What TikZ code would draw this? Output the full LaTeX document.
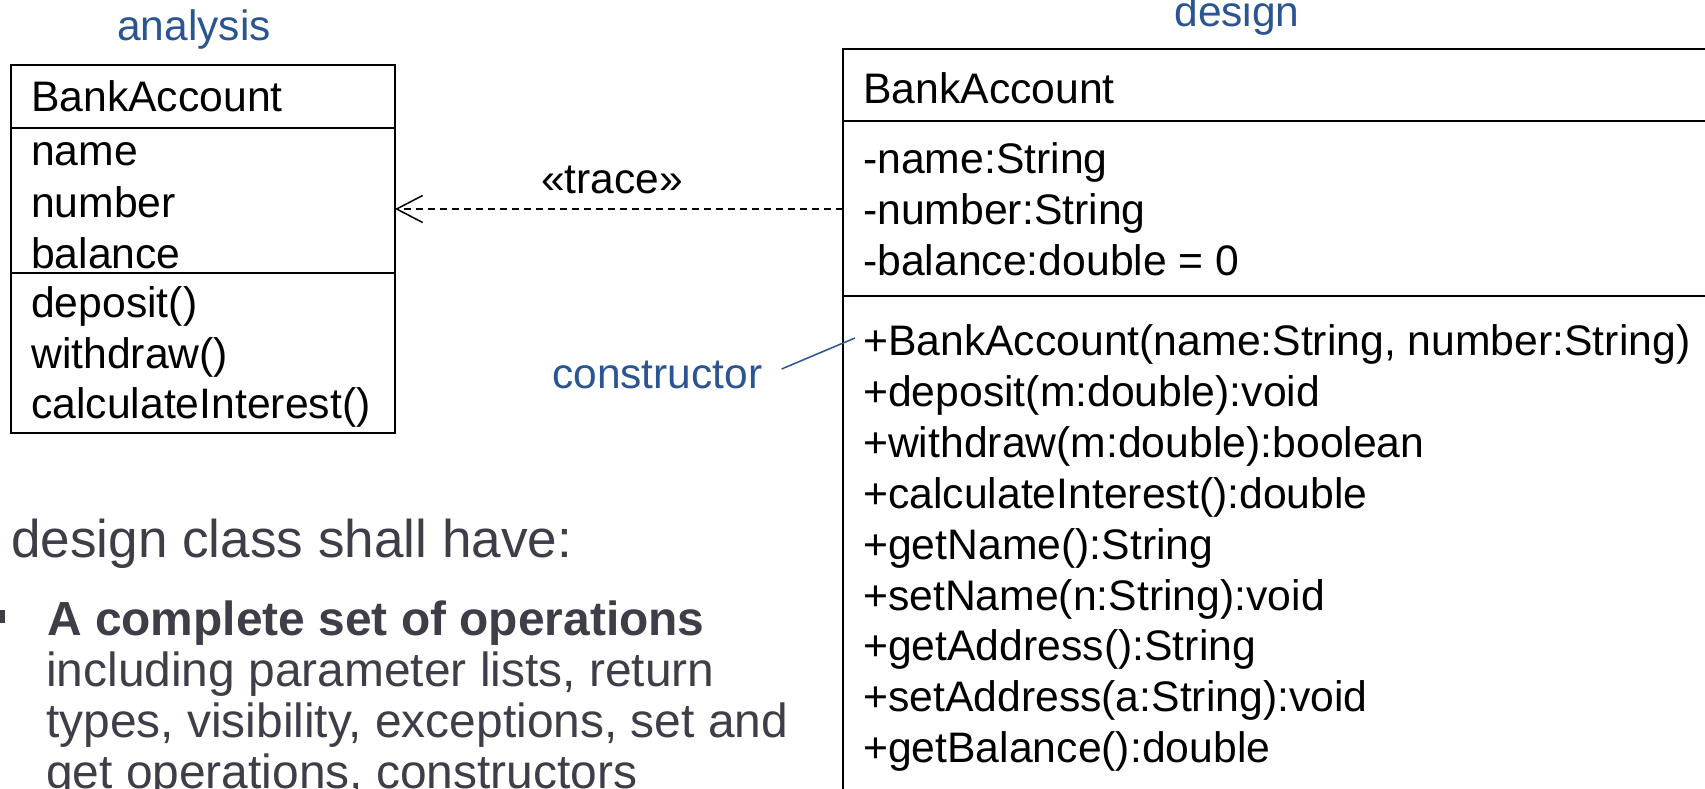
\documentclass[tikz,border=0pt]{standalone}
\usepackage{fontspec}
\setmainfont{Liberation Sans}
\usetikzlibrary{arrows.meta}
\definecolor{lblue}{HTML}{2A5592}
\definecolor{tgray}{HTML}{3E3D48}
\tikzset{
  umlbox/.style={draw, line width=2pt, inner sep=0, outer sep=0, anchor=north west},
  divider/.style={line width=2pt},
  umltxt/.style={inner sep=0, anchor=base west, font=\fontsize{42.7}{50}\selectfont},
  lbl/.style={inner sep=0, anchor=base, text=lblue, font=\fontsize{42.5}{50}\selectfont},
  tracearrow/.style={line width=1.5pt, dash pattern=on 7pt off 5pt, -{Straight Barb[length=26pt, width=27pt, line width=1.5pt]}},
  bodytxt/.style={inner sep=0, anchor=base west, text=tgray, font=\fontsize{47.9}{50}\selectfont},
}
\begin{document}
\begin{tikzpicture}[x=1pt, y=-1pt]
\useasboundingbox (0,0) rectangle (1705,789);
\clip (0,0) rectangle (1705,789);

% analysis class
\node[lbl] (analysislbl) at (194,41) {analysis};
\node[umlbox, minimum width=384pt, minimum height=368pt] (ana) at (11,65) {};
\draw[divider] (11,128) -- (395,128);
\draw[divider] (11,273) -- (395,273);
\node[umltxt] (aname) at (31,112) {BankAccount};
\node[umltxt] (a1) at (31,165) {name};
\node[umltxt] (a2) at (31,217) {number};
\node[umltxt] (a3) at (31,268) {balance};
\node[umltxt] (a4) at (31,317) {deposit()};
\node[umltxt] (a5) at (31,368) {withdraw()};
\node[umltxt] (a6) at (31,418) {calculateInterest()};

% design class
\node[lbl] (designlbl) at (1237,27) {design};
\node[umlbox, minimum width=900pt, minimum height=800pt] (des) at (843,49) {};
\draw[divider] (843,121) -- (1760,121);
\draw[divider] (843,296) -- (1760,296);
\node[umltxt] (dname) at (863,104) {BankAccount};
\node[umltxt] (d1) at (863,173) {-name:String};
\node[umltxt] (d2) at (863,224) {-number:String};
\node[umltxt] (d3) at (863,275) {-balance:double = 0};
\node[umltxt] (o1) at (863,355) {+BankAccount(name:String, number:String)};
\node[umltxt] (o2) at (863,406) {+deposit(m:double):void};
\node[umltxt] (o3) at (863,457) {+withdraw(m:double):boolean};
\node[umltxt] (o4) at (863,508) {+calculateInterest():double};
\node[umltxt] (o5) at (863,559) {+getName():String};
\node[umltxt] (o6) at (863,610) {+setName(n:String):void};
\node[umltxt] (o7) at (863,660) {+getAddress():String};
\node[umltxt] (o8) at (863,711) {+setAddress(a:String):void};
\node[umltxt] (o9) at (863,762) {+getBalance():double};

% trace dependency
\coordinate (trs) at (843,209);
\draw[tracearrow] (trs) -- (ana.east |- trs);
\node[inner sep=0, anchor=base, font=\fontsize{42.5}{50}\selectfont] (trace) at (612,193) {«trace»};

% constructor note
\node[lbl, anchor=base west] (cons) at (552,388) {constructor};
\coordinate (consend) at (855,338);
\draw[lblue, line width=1.5pt] (cons.east |- 0,369) ++(19,0) coordinate (consstart) -- (consend);

% body text
\node[inner sep=0, anchor=base west, text=tgray, font=\fontsize{53.1}{56}\selectfont] (head) at (11,557) {design class shall have:};
\node[fill=tgray, minimum size=13pt, inner sep=0] (bullet) at (-1.5,616.5) {};
\node[bodytxt] (b1) at (47,635) {\textbf{A complete set of operations}};
\node[bodytxt] (b2) at (46,686) {including parameter lists, return};
\node[bodytxt] (b3) at (46,737) {types, visibility, exceptions, set and};
\node[bodytxt] (b4) at (46,788) {get operations, constructors};
\end{tikzpicture}
\end{document}
